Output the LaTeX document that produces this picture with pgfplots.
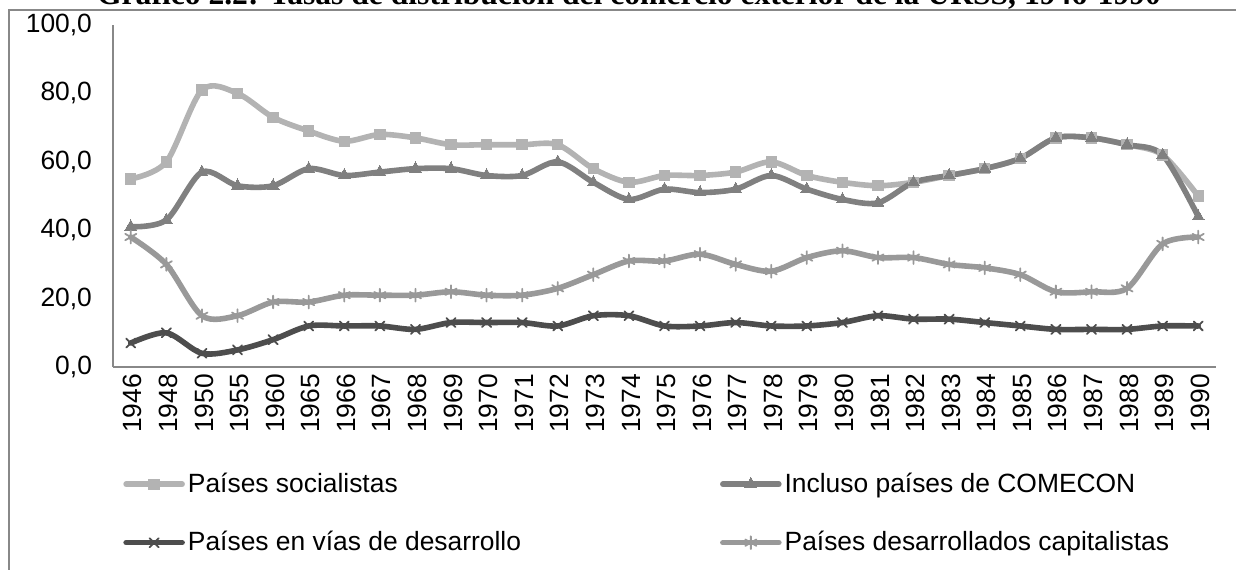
\documentclass[border=0pt]{standalone}
\usepackage{fontspec}
\setmainfont{Liberation Sans}
\newfontfamily\titlefont{Liberation Serif}
\usepackage{pgfplots}
\usepackage{pgfplotstable}
\pgfplotsset{compat=1.18}

\definecolor{socc}{HTML}{B3B3B3}
\definecolor{comc}{HTML}{808080}
\definecolor{devc}{HTML}{4D4D4D}
\definecolor{capc}{HTML}{999999}
\definecolor{framec}{HTML}{888888}

% idx year socialistas comecon desarrollo capitalistas
\pgfplotstableread{
idx year soc com dev cap
0  1946 55 41  7 38
1  1948 60 43 10 30
2  1950 81 57  4 15
3  1955 80 53  5 15
4  1960 73 53  8 19
5  1965 69 58 12 19
6  1966 66 56 12 21
7  1967 68 57 12 21
8  1968 67 58 11 21
9  1969 65 58 13 22
10 1970 65 56 13 21
11 1971 65 56 13 21
12 1972 65 60 12 23
13 1973 58 54 15 27
14 1974 54 49 15 31
15 1975 56 52 12 31
16 1976 56 51 12 33
17 1977 57 52 13 30
18 1978 60 56 12 28
19 1979 56 52 12 32
20 1980 54 49 13 34
21 1981 53 48 15 32
22 1982 54 54 14 32
23 1983 56 56 14 30
24 1984 58 58 13 29
25 1985 61 61 12 27
26 1986 67 67 11 22
27 1987 67 67 11 22
28 1988 65 65 11 23
29 1989 62 62 12 36
30 1990 50 44 12 38
}\datatab

\begin{document}
\begin{tikzpicture}
\useasboundingbox (-56.5pt,-101pt) rectangle (561.5pt,183.5pt);
\clip (-56.5pt,-101pt) rectangle (561.5pt,183.5pt);
\begin{axis}[
  at={(0pt,0pt)}, anchor=south west,
  scale only axis, width=551.5pt, height=171pt,
  xmin=-0.5, xmax=30.5, ymin=0, ymax=100,
  axis x line=bottom, axis y line=left,
  axis line style={-, framec, line width=1pt},
  major tick length=0pt,
  xtick={0,...,30},
  xticklabels={1946,1948,1950,1955,1960,1965,1966,1967,1968,1969,1970,1971,1972,1973,1974,1975,1976,1977,1978,1979,1980,1981,1982,1983,1984,1985,1986,1987,1988,1989,1990},
  xticklabel style={rotate=90, anchor=east, font=\fontsize{13.2}{15}\selectfont, yshift=-1pt},
  ytick={0,20,...,100},
  yticklabel style={font=\fontsize{13.2}{15}\selectfont, xshift=-7pt,
    /pgf/number format/.cd, fixed, fixed zerofill, precision=1, use comma, assume math mode=true},
  legend columns=2,
  legend cell align=left,
  legend style={draw=none, fill=none, inner sep=0pt,
    at={(axis description cs:0.009,-0.30)}, anchor=north west,
    font=\fontsize{13.2}{15}\selectfont,
    nodes={inner sep=1.5pt},
    row sep=15pt,
    /tikz/every even column/.append style={column sep=98pt}},
  legend image code/.code={\draw[mark repeat=2,mark phase=2,#1] plot coordinates {(0pt,0pt)(14pt,0pt)(28pt,0pt)};},
  every axis plot/.append style={line width=2.8pt, line cap=round, line join=round, smooth},
]
\addplot[socc, mark=square*, mark size=2.6pt, mark options={solid, line width=0pt}] table[x=idx, y=soc] {\datatab};
\addlegendentry{Países socialistas}
\addplot[comc, mark=triangle*, mark size=3.4pt, mark options={solid, line width=0pt}] table[x=idx, y=com] {\datatab};
\addlegendentry{Incluso países de COMECON}
\addplot[devc, mark=x, mark size=3.2pt, mark options={solid, line width=0.9pt}] table[x=idx, y=dev] {\datatab};
\addlegendentry{Países en vías de desarrollo}
\addplot[capc, mark=asterisk, mark size=3.2pt, mark options={solid, line width=0.9pt}] table[x=idx, y=cap] {\datatab};
\addlegendentry{Países desarrollados capitalistas}
\end{axis}
\draw[framec, line width=1pt] (-52pt,-120pt) -- (-52pt,178.5pt) -- (580pt,178.5pt);
\node[anchor=base, inner sep=0pt, font=\titlefont\bfseries\fontsize{15.8}{18}\selectfont] at (258pt,181.5pt)
  {Gráfico 2.2: Tasas de distribución del comercio exterior de la URSS, 1946-1990};
\end{tikzpicture}
\end{document}
